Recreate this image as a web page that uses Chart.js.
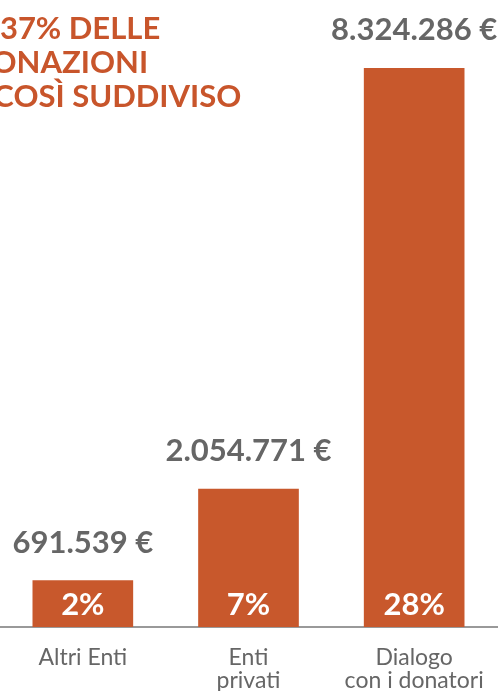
<!DOCTYPE html>
<html>
<head>
<meta charset="utf-8">
<script src="https://cdn.jsdelivr.net/npm/chart.js@4.4.1/dist/chart.umd.min.js"></script>
<style>
  html, body { margin: 0; padding: 0; background: #fff; overflow: hidden; }
  #wrap { position: relative; width: 499px; height: 691px; }
  #title {
    position: absolute; left: -32px; top: 10px;
    font: 700 31px Lato; line-height: 34px; color: #c8552b; white-space: nowrap;
  }
</style>
</head>
<body>
<div id="wrap">
  <canvas id="chart"></canvas>
  <div id="title">IL 37% DELLE<br>DONAZIONI<br>È COSÌ SUDDIVISO</div>
</div>
<script>
// data
const categories = [["Altri Enti"], ["Enti", "privati"], ["Dialogo", "con i donatori"]];
const amounts = [691539, 2054771, 8324286];
const shares = ["2%", "7%", "28%"];

const BAR = "#c8582c";
const GREY = "#666";

function fmtEuro(v) {
  return String(v).replace(/\B(?=(\d{3})+(?!\d))/g, ".") + " €";
}

// amount above the bar, share inside at the bottom
const barLabels = {
  id: "barLabels",
  afterDatasetsDraw(chart) {
    const ctx = chart.ctx;
    ctx.save();
    ctx.textAlign = "center";
    ctx.textBaseline = "alphabetic";
    chart.getDatasetMeta(0).data.forEach((bar, i) => {
      ctx.font = "700 31px Lato";
      ctx.fillStyle = GREY;
      ctx.fillText(fmtEuro(amounts[i]), bar.x, bar.y - 28);
      ctx.fillStyle = "#fff";
      ctx.fillText(shares[i], bar.x, bar.base - 12);
    });
    ctx.restore();
  }
};

new Chart(document.getElementById("chart"), {
  type: "bar",
  data: {
    labels: categories,
    datasets: [{ data: amounts, backgroundColor: BAR, barThickness: 100 }],
  },
  options: {
    responsive: true,
    maintainAspectRatio: false,
    animation: false,
    layout: { padding: { top: 23, left: 0, right: 2, bottom: 0 } },
    plugins: { legend: { display: false }, tooltip: { enabled: false } },
    scales: {
      x: {
        z: 1,
        grid: { display: false },
        border: { display: true, color: "#999", width: 2 },
        ticks: { color: GREY, font: { family: "Lato", size: 23, lineHeight: 1.0 }, padding: 11 },
        afterFit(scale) { scale.height = 64; },
      },
      y: { display: false, min: 0, max: 9000000 },
    },
  },
  plugins: [barLabels],
});
</script>
</body>
</html>
